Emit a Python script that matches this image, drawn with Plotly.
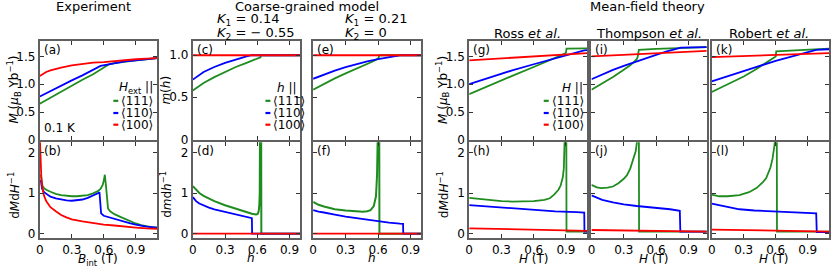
import plotly.graph_objects as go

W, H = 831, 271
GREEN = '#1f8c1f'
BLUE = '#0000ff'
RED = '#ff0000'
FRAME = '#606060'
FONT = 'DejaVu Sans'

# ---------------- data ----------------
# (a) Experiment: M (muB/Yb) vs B_int (T)
a_B_111 = [0, 0.1, 0.2, 0.3, 0.4, 0.5, 0.58, 0.62, 0.65, 0.7, 0.8, 0.9, 1.0, 1.1]
a_M_111 = [0.65, 0.76, 0.87, 0.98, 1.08, 1.18, 1.27, 1.32, 1.36, 1.38, 1.41, 1.43, 1.45, 1.47]
a_B_110 = [0, 0.1, 0.2, 0.3, 0.4, 0.5, 0.57, 0.62, 0.7, 0.8, 0.9, 1.0, 1.1]
a_M_110 = [0.78, 0.88, 0.98, 1.07, 1.16, 1.26, 1.33, 1.35, 1.38, 1.41, 1.43, 1.45, 1.47]
a_B_100 = [0, 0.03, 0.06, 0.1, 0.15, 0.2, 0.3, 0.4, 0.5, 0.6, 0.7, 0.8, 0.9, 1.0, 1.1]
a_M_100 = [1.15, 1.19, 1.22, 1.25, 1.28, 1.30, 1.34, 1.37, 1.39, 1.40, 1.42, 1.43, 1.45, 1.46, 1.47]

# (b) Experiment: dM/dH vs B_int
b_B_111 = [0.01, 0.015, 0.025, 0.04, 0.06, 0.1, 0.15, 0.2, 0.25, 0.3, 0.35, 0.4, 0.45, 0.5,
           0.54, 0.57, 0.59, 0.6, 0.61, 0.62, 0.63, 0.64, 0.66, 0.7, 0.75, 0.8, 0.85, 0.9,
           0.95, 1.0, 1.05, 1.1]
b_D_111 = [1.45, 1.3, 1.18, 1.12, 1.08, 1.03, 0.98, 0.95, 0.93, 0.92, 0.92, 0.93, 0.95, 0.99,
           1.04, 1.1, 1.2, 1.3, 1.45, 1.2, 0.78, 0.62, 0.55, 0.48, 0.42, 0.36, 0.3, 0.25,
           0.21, 0.18, 0.16, 0.15]
b_B_110 = [0.01, 0.02, 0.04, 0.07, 0.1, 0.15, 0.2, 0.25, 0.3, 0.35, 0.4, 0.45, 0.5, 0.53,
           0.55, 0.56, 0.565, 0.575, 0.6, 0.65, 0.7, 0.75, 0.8, 0.85, 0.9, 0.95, 1.0, 1.05, 1.1]
b_D_110 = [1.32, 1.12, 1.02, 0.96, 0.91, 0.87, 0.84, 0.82, 0.81, 0.82, 0.84, 0.88, 0.93, 0.97,
           1.0, 1.02, 0.8, 0.5, 0.44, 0.4, 0.36, 0.32, 0.29, 0.25, 0.22, 0.19, 0.17, 0.16, 0.15]
b_B_100 = [0.0, 0.003, 0.008, 0.015, 0.025, 0.04, 0.06, 0.08, 0.1, 0.15, 0.2, 0.25, 0.3,
           0.4, 0.5, 0.6, 0.7, 0.8, 0.9, 1.0, 1.1]
b_D_100 = [2.4, 2.1, 1.7, 1.35, 1.1, 0.93, 0.8, 0.72, 0.65, 0.55, 0.46, 0.4, 0.35, 0.3,
           0.26, 0.22, 0.2, 0.17, 0.15, 0.13, 0.12]

# (c) Coarse-grained K1=0.14, K2=-0.55: m(h)
c_h_111 = [0, 0.05, 0.1, 0.2, 0.3, 0.4, 0.5, 0.6, 0.63, 0.632, 1.0]
c_m_111 = [0.58, 0.63, 0.67, 0.74, 0.80, 0.86, 0.91, 0.96, 0.975, 1.0, 1.0]
c_h_110 = [0, 0.05, 0.1, 0.15, 0.2, 0.3, 0.4, 0.5, 0.55, 1.0]
c_m_110 = [0.71, 0.76, 0.80, 0.83, 0.86, 0.91, 0.95, 0.985, 1.0, 1.0]
c_h_100 = [0, 1.0]
c_m_100 = [1.0, 1.0]

# (d) Coarse-grained K1=0.14, K2=-0.55: dm/dh
d_h_111 = [0, 0.03, 0.06, 0.1, 0.15, 0.2, 0.3, 0.4, 0.5, 0.55, 0.59, 0.605, 0.613,
           0.619, 0.623, 0.626, 0.636, 0.638, 1.0]
d_D_111 = [1.17, 1.08, 1.0, 0.93, 0.86, 0.8, 0.7, 0.61, 0.53, 0.49, 0.47, 0.49, 0.55,
           0.7, 1.0, 3.0, 3.0, 0.0, 0.0]
d_h_110 = [0, 0.03, 0.06, 0.1, 0.15, 0.2, 0.3, 0.4, 0.5, 0.55, 0.552, 1.0]
d_D_110 = [0.9, 0.8, 0.74, 0.69, 0.64, 0.6, 0.54, 0.48, 0.42, 0.38, 0.0, 0.0]
d_h_100 = [0, 1.0]
d_D_100 = [0.0, 0.0]

# (e) Coarse-grained K1=0.21, K2=0: m(h)
e_h_111 = [0, 0.1, 0.2, 0.3, 0.4, 0.5, 0.55, 0.6, 0.605, 0.61, 1.0]
e_m_111 = [0.59, 0.66, 0.725, 0.785, 0.84, 0.895, 0.925, 0.96, 0.97, 1.0, 1.0]
e_h_110 = [0, 0.1, 0.2, 0.3, 0.4, 0.5, 0.6, 0.7, 0.8, 0.83, 1.0]
e_m_110 = [0.72, 0.772, 0.818, 0.858, 0.894, 0.926, 0.954, 0.978, 0.997, 1.0, 1.0]
e_h_100 = [0, 1.0]
e_m_100 = [1.0, 1.0]

# (f) Coarse-grained K1=0.21, K2=0: dm/dh
f_h_111 = [0, 0.05, 0.1, 0.15, 0.2, 0.3, 0.4, 0.46, 0.5, 0.53, 0.56, 0.58, 0.59, 0.6,
           0.61, 0.612, 1.0]
f_D_111 = [0.78, 0.71, 0.67, 0.63, 0.6, 0.57, 0.55, 0.54, 0.55, 0.58, 0.68, 0.92, 1.44,
           3.0, 3.0, 0.0, 0.0]
f_h_110 = [0, 0.05, 0.1, 0.15, 0.2, 0.3, 0.4, 0.5, 0.6, 0.7, 0.8, 0.83, 0.832, 1.0]
f_D_110 = [0.58, 0.54, 0.52, 0.5, 0.47, 0.42, 0.38, 0.34, 0.3, 0.27, 0.245, 0.24, 0.0, 0.0]
f_h_100 = [0, 1.0]
f_D_100 = [0.0, 0.0]

# (g) Ross et al.: M vs H
g_H_111 = [0, 0.2, 0.4, 0.6, 0.8, 0.86, 0.89, 0.9, 0.905, 1.1]
g_M_111 = [0.82, 0.99, 1.15, 1.31, 1.47, 1.52, 1.55, 1.57, 1.64, 1.645]
g_H_110 = [0, 0.2, 0.4, 0.6, 0.8, 1.0, 1.07, 1.1]
g_M_110 = [1.0, 1.13, 1.25, 1.36, 1.47, 1.57, 1.61, 1.615]
g_H_100 = [0, 1.1]
g_M_100 = [1.43, 1.56]

# (h) Ross et al.: dM/dH
h_H_111 = [0, 0.1, 0.2, 0.3, 0.4, 0.5, 0.6, 0.7, 0.75, 0.79, 0.83, 0.85, 0.87, 0.88,
           0.89, 0.895, 0.903, 0.905, 1.1]
h_D_111 = [0.88, 0.85, 0.82, 0.8, 0.79, 0.79, 0.8, 0.83, 0.87, 0.96, 1.08, 1.18, 1.38, 1.6,
           2.2, 3.0, 3.0, 0.05, 0.05]
h_H_110 = [0, 0.2, 0.4, 0.6, 0.8, 1.0, 1.07, 1.072, 1.1]
h_D_110 = [0.7, 0.66, 0.62, 0.58, 0.55, 0.53, 0.52, 0.05, 0.05]
h_H_100 = [0, 1.1]
h_D_100 = [0.13, 0.07]

# (i) Thompson et al.: M vs H
i_H_111 = [0, 0.1, 0.2, 0.3, 0.36, 0.4, 0.42, 0.43, 0.44, 0.6, 0.8, 1.07]
i_M_111 = [0.9, 1.01, 1.13, 1.26, 1.34, 1.41, 1.45, 1.5, 1.62, 1.635, 1.65, 1.67]
i_H_110 = [0, 0.1, 0.2, 0.3, 0.4, 0.5, 0.6, 0.7, 0.83, 1.07]
i_M_110 = [1.09, 1.18, 1.26, 1.33, 1.4, 1.46, 1.53, 1.59, 1.66, 1.67]
i_H_100 = [0, 1.07]
i_M_100 = [1.5, 1.6]

# (j) Thompson et al.: dM/dH
j_H_111 = [0, 0.05, 0.09, 0.15, 0.2, 0.25, 0.3, 0.33, 0.36, 0.39, 0.41, 0.425, 0.432,
           0.44, 0.442, 1.07]
j_D_111 = [1.2, 1.14, 1.12, 1.13, 1.16, 1.24, 1.35, 1.44, 1.6, 1.84, 2.02, 2.3, 3.0,
           3.0, 0.05, 0.05]
j_H_110 = [0, 0.05, 0.1, 0.2, 0.3, 0.42, 0.5, 0.6, 0.73, 0.82, 0.825, 1.07]
j_D_110 = [0.94, 0.88, 0.83, 0.77, 0.72, 0.68, 0.66, 0.63, 0.6, 0.56, 0.05, 0.05]
j_H_100 = [0, 1.07]
j_D_100 = [0.09, 0.05]

# (k) Robert et al.: M vs H
k_H_111 = [0, 0.1, 0.2, 0.3, 0.4, 0.5, 0.57, 0.6, 0.605, 0.8, 1.0, 1.1]
k_M_111 = [0.86, 0.95, 1.05, 1.14, 1.25, 1.37, 1.46, 1.5, 1.59, 1.61, 1.63, 1.64]
k_H_110 = [0, 0.2, 0.4, 0.6, 0.8, 0.98, 1.1]
k_M_110 = [1.05, 1.18, 1.3, 1.42, 1.52, 1.62, 1.63]
k_H_100 = [0, 1.1]
k_M_100 = [1.49, 1.56]

# (l) Robert et al.: dM/dH
l_H_111 = [0, 0.07, 0.15, 0.26, 0.35, 0.42, 0.48, 0.51, 0.55, 0.57, 0.59, 0.6, 0.61,
           0.612, 1.1]
l_D_111 = [0.96, 0.92, 0.92, 0.95, 1.02, 1.12, 1.27, 1.36, 1.62, 1.84, 2.2, 3.0, 3.0,
           0.05, 0.05]
l_H_110 = [0, 0.1, 0.26, 0.4, 0.6, 0.8, 0.98, 0.985, 1.1]
l_D_110 = [0.74, 0.68, 0.6, 0.57, 0.54, 0.52, 0.5, 0.04, 0.04]
l_H_100 = [0, 1.1]
l_D_100 = [0.1, 0.05]

# tick definitions
X_TICKS = [0, 0.3, 0.6, 0.9]
X_TICKTEXT = ['0', '0.3', '0.6', '0.9']
M_TICKS = [0, 0.5, 1.0, 1.5]
M_TICKTEXT = ['0', '0.5', '1.0', '1.5']
m_TICKS = [0, 0.5, 1.0]
m_TICKTEXT = ['0', '0.5', '1.0']
D_TICKS = [0, 1, 2]
D_TICKTEXT = ['0', '1', '2']

# ---------------- layout geometry (pixels) ----------------
cols = [(36, 154), (190, 298), (311, 420), (468, 587), (591, 707), (712, 830)]
rows = [(42, 143.5), (146, 244)]


def px(x):
    return x / W


def py(y):
    return 1 - y / H


panels = {
    # key: (index, col, row, xmax, ytype, show_y_labels)
    'a': (1, 0, 0, 1.1, 'M', True),
    'b': (2, 0, 1, 1.1, 'D', True),
    'c': (3, 1, 0, 1.0, 'm', True),
    'd': (4, 1, 1, 1.0, 'D', True),
    'e': (5, 2, 0, 1.0, 'm', False),
    'f': (6, 2, 1, 1.0, 'D', False),
    'g': (7, 3, 0, 1.1, 'M', True),
    'h': (8, 3, 1, 1.1, 'D', True),
    'i': (9, 4, 0, 1.07, 'M', False),
    'j': (10, 4, 1, 1.07, 'D', False),
    'k': (11, 5, 0, 1.1, 'M', False),
    'l': (12, 5, 1, 1.1, 'D', False),
}
yinfo = {
    'M': ([0, 1.78], M_TICKS, M_TICKTEXT),
    'm': ([-0.005, 1.17], m_TICKS, m_TICKTEXT),
    'D': ([-0.1, 2.25], D_TICKS, D_TICKTEXT),
}

data = {
    'a': [(a_B_111, a_M_111), (a_B_110, a_M_110), (a_B_100, a_M_100)],
    'b': [(b_B_111, b_D_111), (b_B_110, b_D_110), (b_B_100, b_D_100)],
    'c': [(c_h_111, c_m_111), (c_h_110, c_m_110), (c_h_100, c_m_100)],
    'd': [(d_h_111, d_D_111), (d_h_110, d_D_110), (d_h_100, d_D_100)],
    'e': [(e_h_111, e_m_111), (e_h_110, e_m_110), (e_h_100, e_m_100)],
    'f': [(f_h_111, f_D_111), (f_h_110, f_D_110), (f_h_100, f_D_100)],
    'g': [(g_H_111, g_M_111), (g_H_110, g_M_110), (g_H_100, g_M_100)],
    'h': [(h_H_111, h_D_111), (h_H_110, h_D_110), (h_H_100, h_D_100)],
    'i': [(i_H_111, i_M_111), (i_H_110, i_M_110), (i_H_100, i_M_100)],
    'j': [(j_H_111, j_D_111), (j_H_110, j_D_110), (j_H_100, j_D_100)],
    'k': [(k_H_111, k_M_111), (k_H_110, k_M_110), (k_H_100, k_M_100)],
    'l': [(l_H_111, l_D_111), (l_H_110, l_D_110), (l_H_100, l_D_100)],
}

fig = go.Figure()
layout = dict(
    width=W, height=H, margin=dict(l=0, r=0, t=0, b=0),
    paper_bgcolor='white', plot_bgcolor='white', showlegend=False,
    font=dict(family=FONT, size=12, color='black'),
)

TICKFONT = dict(family=FONT, size=12, color='black')

for key, (n, c, r, xmax, yt, showy) in panels.items():
    x0, x1 = cols[c]
    y0, y1 = rows[r]
    sfx = '' if n == 1 else str(n)
    yr, yv, ytxt = yinfo[yt]
    layout['xaxis' + sfx] = dict(
        domain=[px(x0), px(x1)], range=[0, xmax], anchor='y' + sfx,
        tickvals=X_TICKS, ticktext=X_TICKTEXT, showticklabels=(r == 1),
        ticks='inside', ticklen=4, tickwidth=1.2, tickcolor='#333',
        mirror='ticks', showline=True, linecolor=FRAME, linewidth=2,
        showgrid=False, zeroline=False, tickfont=TICKFONT, fixedrange=True,
    )
    layout['yaxis' + sfx] = dict(
        domain=[py(y1), py(y0)], range=yr, anchor='x' + sfx,
        tickvals=yv, ticktext=ytxt, showticklabels=showy,
        ticks='inside', ticklen=4, tickwidth=1.2, tickcolor='#333',
        mirror='ticks', showline=True, linecolor=FRAME, linewidth=2,
        showgrid=False, zeroline=False, tickfont=TICKFONT, fixedrange=True,
    )
    thick = key in ('d', 'f')
    for (xs, ys), col in zip(data[key], [GREEN, BLUE, RED]):
        fig.add_trace(go.Scatter(
            x=xs, y=ys, mode='lines', xaxis='x' + sfx, yaxis='y' + sfx,
            line=dict(color=col, width=2.0 if (thick and col == GREEN) else 1.8),
            hoverinfo='skip'))

fig.update_layout(**layout)

ann = []
shapes = []


def text(x, y, s, size=12, xanchor='center', angle=0, yanchor='middle', pad=1):
    ann.append(dict(x=px(x), y=py(y), xref='paper', yref='paper', text=s,
                    showarrow=False, xanchor=xanchor, yanchor=yanchor, borderpad=pad,
                    textangle=angle, font=dict(family=FONT, size=size, color='black')))


# group titles
text(90, 7, 'Experiment', 13)
text(305, 7, 'Coarse-grained model', 13)
text(647, 7, 'Mean-field theory', 13)
text(212, 20, '<i>K</i><sub>1</sub> = 0.14', 13, 'left')
text(212, 34, '<i>K</i><sub>2</sub> = − 0.55', 13, 'left')
text(341, 20, '<i>K</i><sub>1</sub> = 0.21', 13, 'left')
text(341, 34, '<i>K</i><sub>2</sub> = 0', 13, 'left')
text(527, 34, 'Ross <i>et al.</i>', 13)
text(649, 34, 'Thompson <i>et al.</i>', 13)
text(770, 34, 'Robert <i>et al.</i>', 13)

# panel letters
for key, (n, c, r, xmax, yt, showy) in panels.items():
    x0 = cols[c][0]
    y0 = rows[r][0]
    text(x0 + 2, y0 + 9, '(' + key + ')', 12, 'left')

text(38, 131, '0.1 K', 12, 'left')

# axis titles
text(10, 92, '<i>M</i> (<i>μ</i><sub>B</sub> Yb<sup>−1</sup>)', 12, angle=-90)
text(10, 200, 'd<i>M</i>d<i>H</i><sup>−1</sup>', 12, angle=-90)
text(163, 93, '<i>m</i>(<i>h</i>)', 12, angle=-90)
text(163, 200, 'd<i>m</i>d<i>h</i><sup>−1</sup>', 12, angle=-90)
text(441, 92, '<i>M</i> (<i>μ</i><sub>B</sub> Yb<sup>−1</sup>)', 12, angle=-90)
text(441, 200, 'd<i>M</i>d<i>H</i><sup>−1</sup>', 12, angle=-90)
text(95, 257.5, '<i>B</i><sub>int</sub> (T)', 12, yanchor='top', pad=0)
text(248, 257, '<i>h</i>', 12, yanchor='top', pad=0)
text(370, 257, '<i>h</i>', 12, yanchor='top', pad=0)
for xc in (533, 654, 775):
    text(xc, 257.5, '<i>H</i> (T)', 12, yanchor='top', pad=0)

# legends
legend_specs = [
    (153, '<i>H</i><sub>ext</sub> ||', 110),
    (298, '<i>h</i> ||', 263),
    (586, '<i>H</i> ||', 543),
]
for xr, title, xd in legend_specs:
    ann.append(dict(x=px(xr - 1), y=py(90), xref='paper', yref='paper', text=title,
                    showarrow=False, xanchor='right', yanchor='middle',
                    font=dict(family=FONT, size=12, color='black')))
    for yy, lab, col in [(103.5, '⟨111⟩', GREEN), (116, '⟨110⟩', BLUE), (128, '⟨100⟩', RED)]:
        shapes.append(dict(type='line', xref='paper', yref='paper',
                           x0=px(xd), x1=px(xd + 5), y0=py(yy), y1=py(yy),
                           line=dict(color=col, width=2.2)))
        ann.append(dict(x=px(xd + 6), y=py(yy), xref='paper', yref='paper', text=lab,
                        showarrow=False, xanchor='left', yanchor='middle',
                        font=dict(family=FONT, size=12, color='black')))

fig.update_layout(annotations=ann, shapes=shapes)
fig.write_html('out.html', config={'displayModeBar': False},
               post_script="document.body.style.margin='0';document.body.style.overflow='hidden';")
